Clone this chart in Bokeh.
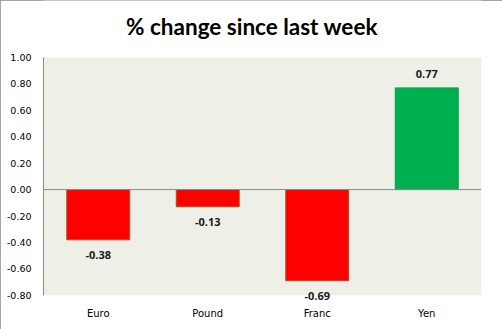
from bokeh.plotting import figure
from bokeh.models import FixedTicker, Span, BoxAnnotation, ColumnDataSource, Range1d, NumeralTickFormatter, Label
from bokeh.core.properties import value
from bokeh.embed import file_html
from bokeh.resources import INLINE

categories = ["Euro", "Pound", "Franc", "Yen"]
changes = [-0.38, -0.13, -0.69, 0.77]
labels = ["-0.38", "-0.13", "-0.69", "0.77"]
y_ticks = [-0.8, -0.6, -0.4, -0.2, 0.0, 0.2, 0.4, 0.6, 0.8, 1.0]
title_text = "% change since last week"

fills = ["#FF0000" if v < 0 else "#00B050" for v in changes]
lines = ["#A0522D" if v < 0 else "#00A04A" for v in changes]
offsets = [15 if v < 0 else -14 for v in changes]

src = ColumnDataSource(dict(cat=categories, val=changes, lab=labels,
                            fill=fills, line=lines, off=offsets))

p = figure(x_range=categories, y_range=Range1d(-0.87, 1.4315),
           width=502, height=329, output_backend="svg", toolbar_location=None,
           min_border_left=43, min_border_right=21, min_border_top=0, min_border_bottom=25)
p.styles = {"outline": "1px solid #8a8a8a", "outline-offset": "-1px"}

p.add_layout(Label(x=1.904, y=1.236, text=title_text,
                   text_align="center", text_baseline="middle",
                   text_font="Lato", text_font_size="22.5px", text_font_style="bold",
                   text_color="#000000"))

p.background_fill_color = "#FFFFFF"
p.border_fill_color = "#FFFFFF"
p.outline_line_color = None
p.grid.visible = False

p.add_layout(BoxAnnotation(bottom=-0.8, top=1.0, fill_color="#EEF0E7", fill_alpha=1.0,
                           line_color=None, level="underlay"))
p.add_layout(Span(location=0, dimension="width", line_color="#8a8a8a", line_width=1))

p.vbar(x="cat", top="val", bottom=0, width=0.575, source=src,
       fill_color="fill", line_color="line", line_width=1)

p.text(x="cat", y="val", text="lab", y_offset="off", source=src,
       text_align="center", text_baseline="middle",
       text_font=value("Open Sans"), text_font_style="bold", text_font_size="11px",
       text_color="#1a1a1a")

ya = p.yaxis[0]
ya.ticker = FixedTicker(ticks=y_ticks)
ya.formatter = NumeralTickFormatter(format="0.00")
ya.bounds = (-0.8, 1.0)
ya.axis_line_color = "#8a8a8a"
ya.major_tick_line_color = None
ya.minor_tick_line_color = None
ya.major_tick_out = 0
ya.major_tick_in = 0
ya.minor_tick_out = 0
ya.major_label_standoff = 12
ya.major_label_text_font = "DejaVu Sans"
ya.major_label_text_font_size = "9.5px"
ya.major_label_text_color = "#000000"

xa = p.xaxis[0]
xa.axis_line_color = None
xa.major_tick_line_color = None
xa.minor_tick_line_color = None
xa.major_tick_out = 0
xa.major_tick_in = 0
xa.minor_tick_out = 0
xa.major_label_standoff = 3
xa.major_label_text_font = "DejaVu Sans"
xa.major_label_text_font_size = "10px"
xa.major_label_text_color = "#000000"

open("out.html", "w").write(file_html(p, INLINE))
